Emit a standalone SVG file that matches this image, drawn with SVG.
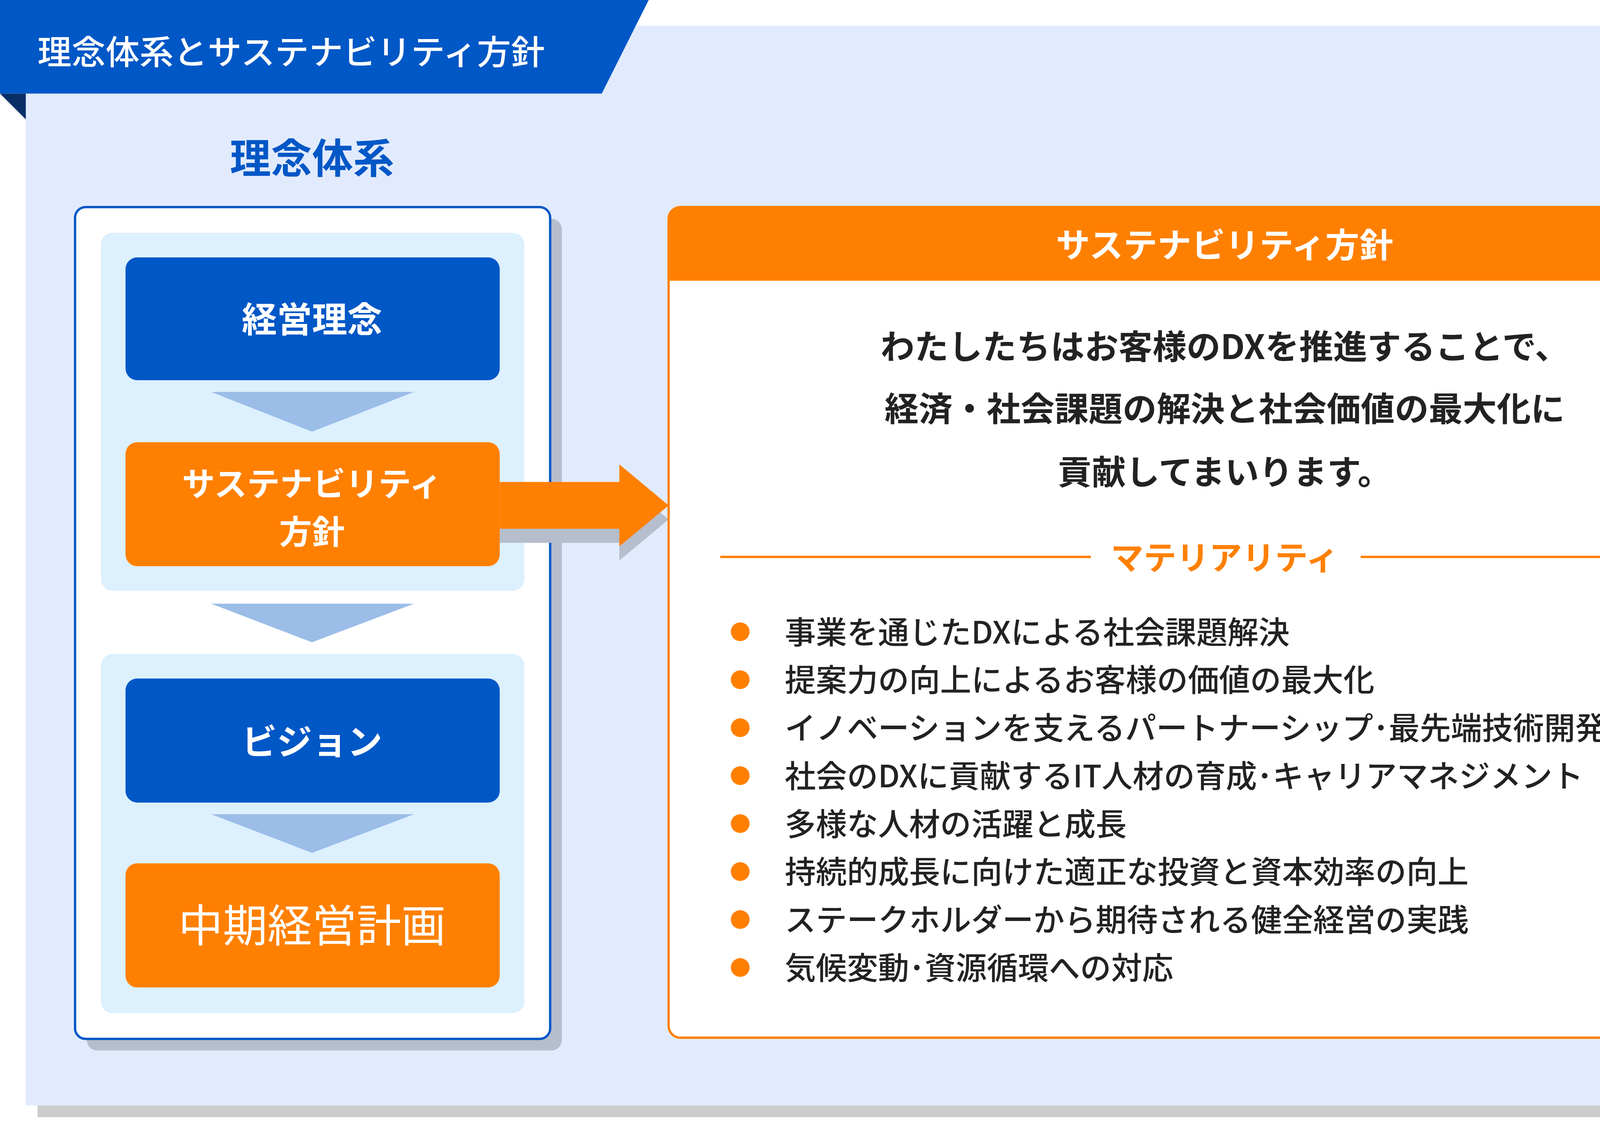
<svg xmlns="http://www.w3.org/2000/svg" width="4709" height="2874" viewBox="0 0 4709 2874">
<style>
text{font-family:"Noto Sans CJK JP","Noto Sans",sans-serif}
.w{fill:#fff;font-weight:700;text-anchor:middle}
.blue{fill:#0057C6}
.org{fill:#FF8000}
.tri{fill:#9BBDE8}
.sh{fill:#B6BDCC}
.body{fill:#222;font-weight:700;font-size:29px;text-anchor:middle}
.li{fill:#222;font-weight:500;font-size:26.5px}
</style>
<rect width="4709" height="2874" fill="#fff"/>
<g transform="scale(3.003 2.994)">
<g id="background">
<rect x="32" y="32" width="1536" height="923" fill="#CCCCCC"/>
<rect x="22" y="22" width="1535" height="923" fill="#E2EBFD"/>
<polygon points="0,80 22,80 22,102" fill="#0A2E66"/>
<polygon points="0,0 553,0 513,80 0,80" class="blue"/>
<text x="32" y="55" font-size="29" font-weight="500" fill="#fff">理念体系とサステナビリティ方針</text>
</g>
<g id="philosophy">
<text x="266" y="148" font-size="35" font-weight="700" fill="#0057C6" text-anchor="middle">理念体系</text>
<rect x="74" y="187" width="405" height="711" rx="9" class="sh"/>
<rect x="64" y="177" width="405" height="711" rx="9" fill="#fff" stroke="#0057C6" stroke-width="2"/>
<rect x="86" y="199" width="361" height="306" rx="10" fill="#DCF0FE"/>
<rect x="86" y="559" width="361" height="307" rx="10" fill="#DCF0FE"/>
</g>
<g id="connectors">
<polygon points="180,335 353,335 266,369" class="tri"/>
<polygon points="180,516 353,516 266,549" class="tri"/>
<polygon points="180,696 353,696 266,729" class="tri"/>
<polygon points="426,424 528,424 528,409 570,444 528,479 528,464 426,464" class="sh"/>
<polygon points="426,412 528,412 528,397 570,432 528,467 528,452 426,452" class="org"/>
</g>
<g id="n1"><rect x="107" y="220" width="319" height="105" rx="10" class="blue"/><text x="266" y="284" font-size="30" class="w">経営理念</text></g>
<g id="n2"><rect x="107" y="378" width="319" height="106" rx="10" class="org"/><text x="266" y="424" font-size="28" class="w">サステナビリティ</text><text x="266" y="465" font-size="28" class="w">方針</text></g>
<g id="n3"><rect x="107" y="580" width="319" height="106" rx="10" class="blue"/><text x="266" y="645" font-size="30" class="w">ビジョン</text></g>
<g id="n4"><rect x="107" y="738" width="319" height="106" rx="10" class="org"/><text x="266" y="805" font-size="38" fill="#fff" font-weight="400" text-anchor="middle">中期経営計画</text></g>
<g id="policy">
<rect x="570" y="177" width="948" height="710" rx="10" fill="#fff" stroke="#FF8000" stroke-width="2"/>
<path d="M570,240 V187 a10,10 0 0 1 10,-10 H1508 a10,10 0 0 1 10,10 V240 Z" class="org"/>
<text x="1044" y="220" font-size="29" class="w">サステナビリティ方針</text>
<text x="1044" y="307" class="body">わたしたちはお客様のDXを推進することで、</text>
<text x="1044" y="360" class="body">経済・社会課題の解決と社会価値の最大化に</text>
<text x="1044" y="414" class="body">貢献してまいります。</text>
<line x1="614" y1="476" x2="930" y2="476" stroke="#FF8000" stroke-width="2"/>
<line x1="1160" y1="476" x2="1476" y2="476" stroke="#FF8000" stroke-width="2"/>
<text x="1044" y="487" font-size="28" font-weight="700" fill="#FF8000" text-anchor="middle">マテリアリティ</text>
<g class="org">
<circle cx="631" cy="540" r="8"/><circle cx="631" cy="581" r="8"/><circle cx="631" cy="622" r="8"/><circle cx="631" cy="663" r="8"/>
<circle cx="631" cy="704" r="8"/><circle cx="631" cy="745" r="8"/><circle cx="631" cy="786" r="8"/><circle cx="631" cy="827" r="8"/>
</g>
<text x="669" y="550" class="li">事業を通じたDXによる社会課題解決</text>
<text x="669" y="591" class="li">提案力の向上によるお客様の価値の最大化</text>
<text x="669" y="632" class="li">イノベーションを支えるパートナーシップ･最先端技術開発</text>
<text x="669" y="673" class="li">社会のDXに貢献するIT人材の育成･キャリアマネジメント</text>
<text x="669" y="714" class="li">多様な人材の活躍と成長</text>
<text x="669" y="755" class="li">持続的成長に向けた適正な投資と資本効率の向上</text>
<text x="669" y="796" class="li">ステークホルダーから期待される健全経営の実践</text>
<text x="669" y="837" class="li">気候変動･資源循環への対応</text>
</g>
</g>
</svg>
